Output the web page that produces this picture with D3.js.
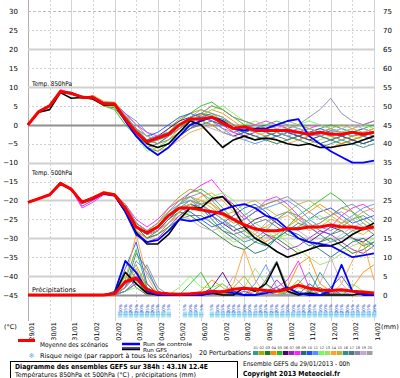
<!DOCTYPE html>
<html><head><meta charset="utf-8">
<script src="https://cdn.jsdelivr.net/npm/d3@7/dist/d3.min.js"></script>
<style>body{margin:0;background:#fff}svg{display:block}text{font-family:"DejaVu Sans",sans-serif}</style>
</head><body><svg id="c" width="400" height="378"></svg>
<script>
// ---------- DATA ----------
const dateLabels = ["29/01","30/01","31/01","01/02","02/02","03/02","04/02","05/02","06/02","07/02","08/02","09/02","10/02","11/02","12/02","13/02","14/02"];
const leftTicks = [30,25,20,15,10,5,0,-5,-10,-15,-20,-25,-30,-35,-40,-45];
const rightTicks = [75,70,65,60,55,50,45,40,35,30,25,20,15,10,5,0];
const memberNames = ["01","02","03","04","05","06","07","08","09","10","11","12","13","14","15","16","17","18","19","20"];
const memberColors = ["#3a9a8a","#a8a800","#207a20","#ff8c00","#20c020","#500070","#a020c0","#ff20ff","#1a7070","#2050ff","#5090ff","#70ff50","#a0e060","#ffa030","#b8b830","#309090","#507878","#8888a8","#c8a8c8","#a0a0a0"];

// T850 (°C), 12h steps from 29/01 00h to 14/02 00h
const t850Mean = [0,3.5,5,8.8,8.3,7.3,7.2,5.5,5.5, 1.5,-2,-4.5,-3.5,-2.5, 0,1.5,1.5,2,0.5, -1,-0.5,-1.5,-1.5,-1.5, -1.5,-2,-2.5,-2,-2.5, -2.5,-2,-2.5,-2];
const t850Control = [0,3.5,5,8.8,8.3,7.3,7.2,5.5,5.5, 1,-3,-6,-8,-6, -3,0,1,2,1, -1,-1.5,-1,-1,0, 1,1.5,-3,-5,-7, -8.5,-10,-10,-9.5];
const t850Gfs = [0,3.3,4,8.5,7,7.2,6.8,5.2,5.3, 1.5,-2,-5,-6,-5, -2,1,0,-3,-6, -4,-3,-4,-3.5,-4, -5,-5.5,-5,-6,-6, -5.5,-5,-4,-3];
const t850m01 = [0,3.5,5.2,8.6,8.0,7.5,7.0,5.8,5.2, 2.5,-1,-4,-5,-3, 0,2,3,2.5,1, -1,0,-1,-2,-1.5, -1,-2,-3,-2.5,-1.5, -2,-3,-2.5,-2];
const t850m02 = [0,3.6,5,9,8.5,7,7.5,6,6, 3,0,-3,-4,-1, 1.5,3,4,3,1, 0,-1,-2,-3,-2, -1,0,-1,-2,-3, -4,-3,-2,-1];
const t850m03 = [0,3.4,4.8,8.7,8.4,7.6,7.3,5,4.5, 1,-3,-6,-7,-5, -2,0,1,2,1.5, 0,-2,-3,-4,-5, -4,-3,-2,-3,-4, -5,-4,-3,-4];
const t850m04 = [0,3.5,5.1,8.9,8.2,7,7.8,6.2,5.8, 2,-2,-5,-6,-4, -1,1,2.5,4,3, 1,-1,-2,-1,0, -1,-3,-4,-5,-6, -5,-4,-3,-2];
const t850m05 = [0,3.5,4.9,8.5,8.3,7.2,6.8,5,4, 0,-3,-5,-4,-2, 1,3,5,6,4, 2,0,-1,0,1, 0,-1,-2,-1,0, -1,-2,-1,0];
const t850m06 = [0,3.6,5,8.8,8.6,7.4,7.4,5.4,5.6, 2.5,-1.5,-4,-3,-1, 1,2,1,0,-2, -3,-2,-1,-2,-3, -2,-3,-4,-3,-2, -3,-4,-5,-4];
const t850m07 = [0,3.5,5.3,8.9,8.1,7.1,7.6,5.7,5.3, 1.5,-2.5,-6,-8,-6, -3,-1,1,2,0, -2,-3,-2,-1,-2, -3,-4,-3,-2,-1, -2,-3,-2,-3];
const t850m08 = [0,3.5,5,9.3,8.4,7.3,7.1,5.6,5.5, 3,0,-2,-3,-2, 0,2,3,1,-1, -2,-1,0,1,0, -1,-2,-1,0,-1, -2,-1,0,1];
const t850m09 = [0,3.4,5,8.6,8.5,7.2,7.2,5.5,5.1, 1.5,-2,-5,-6,-5, -3,-1,0,1,0, -1,-2,-3,-4,-3, -2,-3,-4,-5,-4, -3,-4,-5,-4];
const t850m10 = [0,3.5,5.1,8.8,8.2,7.4,7.5,5.9,5.7, 2,-1,-3,-2,0, 2,3,2,1,0, -1,-2,-1,0,-1, -2,-3,-2,-1,-2, -3,-2,-1,-2];
const t850m11 = [0,3.5,5,8.7,8.3,7.3,7.3,5.3,5.4, 3,1,-2,-4,-3, -1,1,2,1,-1, -3,-4,-5,-4,-3, -2,-1,-2,-3,-2, -1,-2,-3,-4];
const t850m12 = [0,3.5,5,8.8,8.3,7.5,7.4,5.5,5, 1,-3,-7,-6,-4, -2,0,2,4,5, 3,1,0,-1,-2, -1,0,1,0,-1, -2,-1,0,-1];
const t850m13 = [0,3.5,5,8.8,8.3,7,7,5,4.8, 1.5,-2,-4,-5,-4, -2,0,1,0,-2, -1,0,1,0,-1, -3,-4,-5,-4,-3, -2,-3,-4,-3];
const t850m14 = [0,3.5,5,8.8,8.3,7.2,7.2,5.6,5.6, 2,-1.5,-5,-7,-6, -4,-2,-1,0,1, 0,-1,-2,-3,-4, -5,-4,-3,-2,-3, -4,-3,-2,-3];
const t850m15 = [0,3.5,5,8.8,8.3,7.4,7.4,5.5,5.5, 2.5,-1,-3,-4,-3, -1,1,3,5,4, 2,1,0,-1,0, 1,0,-1,-2,-1, 0,-1,-2,-1];
const t850m16 = [0,3.5,5,8.8,8.3,7.3,7.3,5.4,5.2, 2,-2,-4,-3,-2, 0,2,3,2,0, -1,-3,-4,-3,-2, -3,-4,-5,-6,-5, -4,-5,-6,-5];
const t850m17 = [0,3.5,5,8.8,8.3,7.3,7.2,5.5,5.5, 1,-3,-6,-5,-3, -1,1,2,3,2, 0,-2,-1,-2,-3, -4,-3,-2,-3,-4, -3,-2,-3,-2];
const t850m18 = [0,3.5,5,8.8,8.3,7.3,7.3,5.5,5.3, 2,-1,-4,-5,-4, -2,0,3,5,4, 2,1,0,-1,-2, -1,0,2,4,7, 3,1,0,1];
const t850m19 = [0,3.5,5,8.8,8.3,7.3,7.3,5.5,5.5, 2.5,0,-3,-4,-2, 0,1,0,-1,-2, -3,-4,-3,-2,-1, 0,-1,-2,-3,-2, -1,0,-1,-2];
const t850m20 = [0,3.5,5,8.8,8.3,7.3,7.3,5.5,5.5, 1.5,-2,-5,-4,-3, -1,2,4,3,2, 0,-1,-2,-1,-2, -3,-2,-1,-2,-3, -4,-3,-2,-3];

// T500 (°C)
const t500Mean = [-20.5,-19.5,-18.5,-15.5,-17,-20.5,-19.3,-18,-18.5, -22,-27,-28.6,-27,-24, -22,-22,-22.5,-23,-23.5, -25,-26.5,-27.5,-28,-28, -27.5,-27.5,-27,-27,-26.5, -27,-27,-27.5,-27];
const t500Control = [-20.5,-19.5,-18.5,-15.5,-17,-20.5,-19.5,-18,-18.5, -23,-29,-31,-30.5,-28, -25,-25.5,-25,-24,-22.5, -21.5,-21,-22,-24,-25, -27.5,-30,-31,-31.5,-32, -33.5,-35,-34.5,-34];
const t500Gfs = [-20.5,-19.5,-18.5,-15.3,-17.2,-20.3,-19.5,-18.2,-18.7, -23,-28.5,-31.5,-31.5,-29, -25,-22,-22,-19.5,-19, -22,-27,-30,-31.5,-33.5, -35,-34,-33,-32,-32, -31,-29,-27.5,-26];
const t500m01 = [-20.5,-19.5,-18.5,-15.5,-17,-20.5,-19.5,-18,-18.5, -22,-27,-29,-27,-23, -20,-19,-21,-24,-27, -29,-31,-30,-28,-25, -23,-24,-26,-28,-29, -27,-25,-24,-26];
const t500m02 = [-20.5,-19.6,-18.3,-15.3,-16.8,-20.2,-19.3,-17.8,-18.2, -21,-26,-28,-26,-22, -19,-17,-18,-21,-24, -26,-25,-23,-21,-20, -22,-25,-27,-26,-24, -22,-23,-25,-27];
const t500m03 = [-20.5,-19.4,-18.6,-15.8,-17.3,-20.8,-19.8,-18.3,-18.9, -23,-28,-30,-28,-25, -23,-24,-26,-28,-30, -32,-33,-31,-29,-30, -32,-34,-33,-31,-30, -32,-34,-33,-31];
const t500m04 = [-20.5,-19.5,-18.4,-15.4,-16.9,-20.4,-19.2,-17.6,-18.3, -22,-27,-29,-28,-26, -24,-22,-20,-21,-23, -25,-27,-29,-31,-29, -27,-25,-23,-21,-23, -25,-27,-28,-26];
const t500m05 = [-20.5,-19.5,-18.5,-15.6,-17.2,-20.6,-19.6,-18.1,-18.4, -21,-26,-28,-27,-24, -21,-18,-17,-19,-22, -25,-28,-30,-32,-30, -27,-24,-22,-20,-18, -20,-23,-26,-28];
const t500m06 = [-20.5,-19.5,-18.5,-15.5,-17,-20.5,-19.5,-18,-18.5, -22,-27,-29,-28,-25, -22,-21,-22,-24,-26, -28,-27,-25,-24,-26, -28,-30,-31,-29,-27, -28,-30,-31,-29];
const t500m07 = [-20.5,-19.5,-18.6,-15.4,-17.1,-21.5,-20,-18.4,-18.8, -22,-28,-31,-30,-27, -24,-22,-21,-20,-19, -21,-24,-27,-29,-31, -33,-32,-30,-28,-29, -31,-33,-34,-32];
const t500m08 = [-20.5,-19.5,-18.4,-15.5,-17,-22,-20.5,-18.5,-18.6, -21,-25,-27,-25,-22, -20,-18,-16,-14.5,-18, -22,-25,-23,-20,-19, -21,-24,-27,-29,-27, -24,-22,-21,-23];
const t500m09 = [-20.5,-19.5,-18.5,-15.5,-17,-20.5,-19.5,-18,-18.5, -22,-27,-30,-29,-26, -23,-21,-22,-25,-28, -30,-32,-34,-33,-30, -28,-29,-31,-33,-35, -33,-31,-30,-32];
const t500m10 = [-20.5,-19.5,-18.5,-15.5,-17,-20.5,-19.5,-18,-18.5, -22,-27,-29,-27,-24, -22,-23,-25,-27,-26, -24,-22,-21,-23,-26, -28,-27,-25,-23,-22, -24,-26,-25,-24];
const t500m11 = [-20.5,-19.5,-18.5,-15.5,-17,-20.5,-19.5,-18,-18.5, -21,-26,-28,-26,-23, -21,-20,-22,-24,-26, -27,-25,-23,-22,-21, -20,-22,-25,-27,-28, -26,-24,-22,-21];
const t500m12 = [-20.5,-19.5,-18.5,-15.5,-17,-20.5,-19.5,-18,-18.5, -23,-28,-30,-29,-27, -25,-23,-21,-19,-18, -20,-23,-26,-28,-30, -29,-27,-25,-24,-26, -28,-30,-32,-30];
const t500m13 = [-20.5,-19.5,-18.5,-15.5,-17,-20.5,-19.5,-18,-18.5, -22,-27,-29,-27,-24, -22,-21,-23,-26,-29, -31,-30,-28,-27,-29, -31,-33,-35,-37,-36, -34,-32,-31,-33];
const t500m14 = [-20.5,-19.5,-18.5,-15.5,-17,-20.5,-19.5,-18,-18.5, -22,-28,-30,-29,-26, -23,-21,-19,-18,-20, -23,-26,-28,-27,-25, -24,-26,-28,-27,-25, -26,-28,-29,-27];
const t500m15 = [-20.5,-19.5,-18.5,-15.5,-17,-20.5,-19.5,-18,-18.5, -21,-26,-28,-26,-23, -20,-19,-20,-22,-24, -23,-21,-20,-22,-24, -23,-21,-20,-22,-24, -26,-25,-23,-22];
const t500m16 = [-20.5,-19.5,-18.5,-15.5,-17,-20.5,-19.5,-18,-18.5, -22,-27,-29,-28,-25, -22,-20,-21,-23,-25, -27,-29,-31,-32,-30, -28,-26,-27,-29,-31, -30,-28,-27,-29];
const t500m17 = [-20.5,-19.5,-18.5,-15.5,-17,-20.5,-19.5,-18,-18.5, -22,-27,-30,-29,-27, -25,-24,-24,-26,-28, -29,-28,-26,-25,-27, -29,-30,-32,-31,-29, -28,-30,-32,-31];
const t500m18 = [-20.5,-19.5,-18.5,-15.5,-17,-20.5,-19.5,-18,-18.5, -21,-26,-28,-27,-24, -21,-19,-18,-20,-23, -25,-24,-22,-21,-20, -19,-21,-23,-25,-24, -22,-21,-23,-25];
const t500m19 = [-20.5,-19.5,-18.5,-15.5,-17,-20.5,-19.5,-18,-18.5, -22,-27,-29,-28,-26, -24,-25,-27,-28,-27, -25,-26,-28,-30,-29, -27,-28,-30,-32,-31, -29,-27,-26,-28];
const t500m20 = [-20.5,-19.5,-18.5,-15.5,-17,-20.5,-19.5,-18,-18.5, -21,-27,-29,-27,-24, -21,-20,-21,-23,-25, -28,-30,-29,-26,-24, -23,-25,-27,-26,-24, -23,-25,-27,-26];

// Precipitation (mm)
const prMean = [0,0,0,0,0,0,0,0,0.3, 3.5,4.5,1.5,0.5,0.3, 0.2,0.3,0.5,1,0.8, 1.5,1.8,1.5,1.2,1, 1.5,2.6,1.8,1.3,1.2, 1.4,1,0.8,0.5];
const prControl = [0,0,0,0,0,0,0,0,0.5, 9,6,1,0,0, 0,0,0,0.5,1, 0.5,0,0,0.5,1, 2,0.5,0,0,1, 8,1,0,0];
const prGfs = [0,0,0,0,0,0,0,0,0.3, 6,3,0.5,0,0, 0,0,0,0.5,0, 0,2,1,3,8.5, 1,0,0.5,0,0, 0,0,0.5,0];
const prm01 = [0,0,0,0,0,0,0,0,0.5, 5,3,0.5,0,0, 0,0,0,1,3, 0.5,0,0,1,2, 0.5,3,6,1,0, 0.5,0,0,0];
const prm02 = [0,0,0,0,0,0,0,0,0, 3,8,2,0,0, 0,0,0.5,0,0, 2,5,1,0,0, 1,4,1,0,0, 0,0,1,0];
const prm03 = [0,0,0,0,0,0,0,0,1, 9,4,1,0,0, 0,0,0,0,0.5, 1,0,0,3,1, 0,0,1,2,0, 0,0,0,0];
const prm04 = [0,0,0,0,0,0,0,0,0, 2,6,3,0.5,0, 0,0,1,4,2, 0,0,1,0,0, 2,8,10,3,1, 0,2,6,8];
const prm05 = [0,0,0,0,0,0,0,0,0, 4,12,2,0,0, 0,3,6,1,0, 0.5,0,2,1,0, 0,0,0,1,0, 0,0,0,0];
const prm06 = [0,0,0,0,0,0,0,0,0, 1,3,0,0,0, 0,0,0,2,6, 1,0,0,0,0, 0,1,0,0,0.5, 0,0,0,0];
const prm07 = [0,0,0,0,0,0,0,0,0.5, 6,2,0,0,0, 0,0,0,0,0, 0,1,0,0,4, 1,0,0,0,0, 0,0,0,0];
const prm08 = [0,0,0,0,0,0,0,0,0, 2,5,1,0,0, 0,0,0,0,0, 0,0,0,1,2, 4,9,2,0,0, 0,0,0,0];
const prm09 = [0,0,0,0,0,0,0,0,0, 3,4,0.5,0,0, 0,0,0,1,0, 0,0,0,0,0, 0,0,3,1,0, 0,0,0,0];
const prm10 = [0,0,0,0,0,0,0,0,0, 7,14,3,0,0, 0,0,0,0,0, 1,0,0,0,0, 0,0,0,0,2, 5,1,0,0];
const prm11 = [0,0,0,0,0,0,0,0,0, 2,9,6,1,0, 0,0,0,0,0, 0,0,3,8,2, 0,0,0,0,0, 1,0,0,0];
const prm12 = [0,0,0,0,0,0,0,0,0, 1,2,0.5,0,0, 2,5,2,2,3, 0,0,0,0,0, 1,0,0,0,0, 0,3,1,0.5];
const prm13 = [0,0,0,0,0,0,0,0,0, 5,3,0,0,0, 0,0,0,0,0, 0,2,7,3,0, 0,1,0,0,0, 0,0,0,0];
const prm14 = [0,0,0,0,0,0,0,0,0, 4,16,5,0,0, 0,0,0,0,0, 3,12,4,0,0, 0,0,0,0,0, 3,9,14,4];
const prm15 = [0,0,0,0,0,0,0,0,0, 3,7,1,0,0, 0,0,0,0,0, 0,0,0,0,0, 1,0,0,0,0, 0,0,0,0];
const prm16 = [0,0,0,0,0,0,0,0,0, 1,4,2,0,0, 0,0,0,0,1, 0,0,0,1,0, 0,0,0,6,2, 0,0,0,0];
const prm17 = [0,0,0,0,0,0,0,0,0, 2,11,7,1,0, 0,0,0,0,0, 0,0,0,4,9, 2,0,0,0,0, 0,0,0,0];
const prm18 = [0,0,0,0,0,0,0,0,0, 1,3,8,2,0, 0,0,0,0,0, 0,0,0,0,0, 0,0,0,0,1, 0,0,0,0];
const prm19 = [0,0,0,0,0,0,0,0,0, 3,5,1,0,0, 0,0,0,0,0, 5,2,0,0,0, 0,0,0,3,10, 3,0,0,0];
const prm20 = [0,0,0,0,0,0,0,0,0, 2,6,2,0,0, 0,0,0,0,0, 0,0,0,0,0, 0,2,1,0,0, 0,0,0,0];

// Snow risk (%) every 6h, 0 = no icon
const snowRisk = [0,0,0,0,0,0,0,0,0,0,0,0,0,0,0,0,0,
  10,15,20,25,30,25,20,15,10,5,
  0,0,
  5,10,10,5,
  0,
  5,10,15,20,20,15,10,10,15,20,25,25,20,15,10,10,15,20,20,15,10,10,15,20,25,20,15,10,10,15,10];

const t850Members = [t850m01,t850m02,t850m03,t850m04,t850m05,t850m06,t850m07,t850m08,t850m09,t850m10,t850m11,t850m12,t850m13,t850m14,t850m15,t850m16,t850m17,t850m18,t850m19,t850m20];
const t500Members = [t500m01,t500m02,t500m03,t500m04,t500m05,t500m06,t500m07,t500m08,t500m09,t500m10,t500m11,t500m12,t500m13,t500m14,t500m15,t500m16,t500m17,t500m18,t500m19,t500m20];
const prMembers = [prm01,prm02,prm03,prm04,prm05,prm06,prm07,prm08,prm09,prm10,prm11,prm12,prm13,prm14,prm15,prm16,prm17,prm18,prm19,prm20];

// ---------- DRAW ----------
const svg = d3.select("#c");
const x = d3.scaleLinear().domain([0,384]).range([28,374]);
const yL = d3.scaleLinear().domain([-45,30]).range([295,11.3]);
const yR = d3.scaleLinear().domain([0,75]).range([295,11.3]);
const stepH = 12;
const PLOT_TOP = 0, PLOT_BOT = 321;

const g = svg.append("g");
dateLabels.forEach((lab,i)=>{
  const xx = Math.round(x(i*24))+0.5;
  g.append("line").attr("x1",xx).attr("x2",xx).attr("y1",PLOT_TOP).attr("y2",PLOT_BOT)
    .attr("stroke", i===0 ? "#b0b0b0" : "#d4d4d4").attr("stroke-width",1)
    .attr("stroke-dasharray", (i%2===1) ? "2,2" : null);
});
leftTicks.forEach(v=>{
  const yy = Math.round(yL(v))+0.5;
  let stroke="#cfcfcf", w=1, dash="2,2";
  if (v%10===0) { stroke="#d0d0d0"; w=2; dash=null; }
  if (v===30) { stroke="#c8b8b8"; w=1; dash="3,2"; }
  if (v===0 || v===-45) { stroke="#909090"; w=2; dash=null; }
  g.append("line").attr("x1",28).attr("x2",374).attr("y1",yy).attr("y2",yy)
    .attr("stroke",stroke).attr("stroke-width",w).attr("stroke-dasharray",dash);
});

const axL = d3.axisLeft(yL).tickValues(leftTicks).tickSize(0).tickPadding(0);
const gl = svg.append("g").attr("transform","translate(18,0)").call(axL);
gl.select(".domain").remove();
gl.selectAll("text").attr("font-size",7).attr("fill","#000").attr("font-family","DejaVu Sans");
const axR = d3.axisRight(yR).tickValues(rightTicks).tickSize(0).tickPadding(0);
const gr = svg.append("g").attr("transform","translate(383,0)").call(axR);
gr.select(".domain").remove();
gr.selectAll("text").attr("font-size",7).attr("fill","#000").attr("font-family","DejaVu Sans");

dateLabels.forEach((lab,i)=>{
  svg.append("text").attr("transform",`translate(${x(i*24)+6},322) rotate(-90)`)
    .attr("text-anchor","end").attr("font-size",6.5).attr("fill","#000").text(lab);
});
svg.append("text").attr("x",4).attr("y",329).attr("font-size",6.5).text("(°C)");
svg.append("text").attr("x",381).attr("y",329).attr("font-size",6.5).text("(mm)");

svg.append("text").attr("x",32).attr("y",85.5).attr("font-size",6.5).attr("textLength",40).attr("lengthAdjust","spacingAndGlyphs").text("Temp. 850hPa");
svg.append("text").attr("x",32).attr("y",174.5).attr("font-size",6.5).attr("textLength",40).attr("lengthAdjust","spacingAndGlyphs").text("Temp. 500hPa");
svg.append("text").attr("x",32).attr("y",291.5).attr("font-size",6.5).attr("textLength",44).attr("lengthAdjust","spacingAndGlyphs").text("Précipitations");

snowRisk.forEach((v,k)=>{
  if (!v) return;
  const xx = x(k*6);
  svg.append("rect").attr("x",xx-2).attr("y",311.5).attr("width",4.4).attr("height",6).attr("fill","#a6e0f4");
  svg.append("line").attr("x1",xx-2).attr("x2",xx+2.4).attr("y1",314.5).attr("y2",314.5).attr("stroke","#7cc8ec").attr("stroke-width",1);
  svg.append("text").attr("transform",`translate(${xx+1.6},304) rotate(-90)`).attr("text-anchor","end")
    .attr("font-size",4.2).attr("fill","#2040d0").text(v+"%");
});

const mk = (ys)=> d3.line().x((d,i)=>x(i*stepH)).y(d=>ys(d));
const lineL = mk(yL), lineR = mk(yR);
const series = svg.append("g").attr("fill","none").attr("stroke-linejoin","round");
[[t850Members,lineL],[t500Members,lineL],[prMembers,lineR]].forEach(([arr,ln])=>{
  arr.forEach((s,i)=>{
    series.append("path").attr("d",ln(s)).attr("stroke",memberColors[i]).attr("stroke-width",0.9);
  });
});
[[t850Gfs,lineL],[t500Gfs,lineL],[prGfs,lineR]].forEach(([s,ln])=>series.append("path").attr("d",ln(s)).attr("stroke","#000").attr("stroke-width",1.6));
[[t850Control,lineL],[t500Control,lineL],[prControl,lineR]].forEach(([s,ln])=>series.append("path").attr("d",ln(s)).attr("stroke","#0000ff").attr("stroke-width",1.8));
[[t850Mean,lineL],[t500Mean,lineL],[prMean,lineR]].forEach(([s,ln])=>series.append("path").attr("d",ln(s)).attr("stroke","#ff0000").attr("stroke-width",3));

// legend
const fs = 6.5;
svg.append("line").attr("x1",18).attr("x2",35).attr("y1",340.5).attr("y2",340.5).attr("stroke","#ff0000").attr("stroke-width",3);
svg.append("text").attr("x",40).attr("y",347).attr("font-size",fs).attr("textLength",68).attr("lengthAdjust","spacingAndGlyphs").text("Moyenne des scénarios");
svg.append("line").attr("x1",122).attr("x2",140).attr("y1",344).attr("y2",344).attr("stroke","#0000ff").attr("stroke-width",2.5);
svg.append("text").attr("x",143).attr("y",345.5).attr("font-size",5.4).attr("textLength",49).attr("lengthAdjust","spacingAndGlyphs").text("Run de controle");
svg.append("line").attr("x1",122).attr("x2",140).attr("y1",348).attr("y2",348).attr("stroke","#1a1a60").attr("stroke-width",1.5);
svg.append("line").attr("x1",122).attr("x2",140).attr("y1",349.5).attr("y2",349.5).attr("stroke","#000").attr("stroke-width",1.5);
svg.append("text").attr("x",143).attr("y",352.3).attr("font-size",5.4).attr("textLength",24).attr("lengthAdjust","spacingAndGlyphs").text("Run GFS");
svg.append("text").attr("x",31.5).attr("y",357.5).attr("font-size",7).attr("text-anchor","middle").attr("fill","#60b0e8").text("❄");
svg.append("text").attr("x",40).attr("y",357.8).attr("font-size",fs).attr("textLength",152).attr("lengthAdjust","spacingAndGlyphs").text("Risque neige (par rapport à tous les scénarios)");
svg.append("text").attr("x",199).attr("y",354.5).attr("font-size",fs).attr("textLength",52).attr("lengthAdjust","spacingAndGlyphs").text("20 Perturbations");
memberNames.forEach((n,i)=>{
  const sx = 253 + i*6;
  svg.append("rect").attr("x",sx).attr("y",351).attr("width",5.5).attr("height",4).attr("fill",memberColors[i]);
  svg.append("text").attr("x",sx+2.75).attr("y",349).attr("text-anchor","middle").attr("font-size",3.6).attr("fill","#333").text(n);
});

svg.append("rect").attr("x",10.5).attr("y",361.5).attr("width",227).attr("height",20).attr("fill","#fff").attr("stroke","#000").attr("stroke-width",1);
svg.append("text").attr("x",15).attr("y",368.5).attr("font-size",7).attr("font-weight","bold").attr("textLength",193).attr("lengthAdjust","spacingAndGlyphs").text("Diagramme des ensembles GEFS sur 384h : 43.1N 12.4E");
svg.append("text").attr("x",15).attr("y",376.5).attr("font-size",fs).attr("textLength",181).attr("lengthAdjust","spacingAndGlyphs").text("Températures 850hPa et 500hPa (°C) , précipitations (mm)");
svg.append("text").attr("x",243).attr("y",366).attr("font-size",fs).attr("textLength",107).attr("lengthAdjust","spacingAndGlyphs").text("Ensemble GEFS du 29/01/2013 - 00h");
svg.append("text").attr("x",243).attr("y",376).attr("font-size",7).attr("font-weight","bold").attr("textLength",97).attr("lengthAdjust","spacingAndGlyphs").text("Copyright 2013 Meteociel.fr");
</script></body></html>
